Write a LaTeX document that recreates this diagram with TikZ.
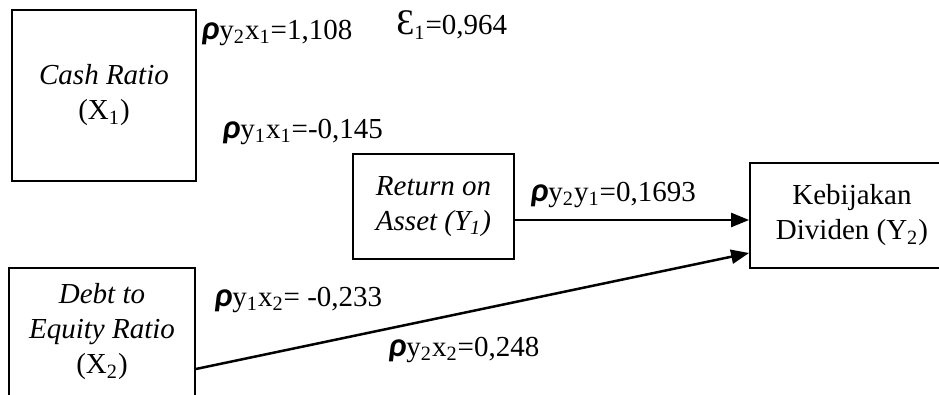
\documentclass[tikz,border=0pt]{standalone}
\usepackage{fontspec}
\setmainfont{Liberation Serif}
\newfontfamily\rhofont{Carlito}
\usetikzlibrary{arrows.meta}
\newcommand{\rh}{{\rhofont\fontsize{17}{17}\selectfont\bfseries\itshape ρ}}
\newcommand{\sbs}[1]{\textsubscript{#1}}
\begin{document}
\begin{tikzpicture}[x=0.5pt,y=-0.5pt,
  every node/.style={font=\fontsize{14.5}{17.5}\selectfont},
  box/.style={draw, line width=0.9pt, rectangle, align=center, inner sep=0pt},
  lbl/.style={anchor=west, inner sep=0pt},
  arr/.style={line width=1.25pt, -{Triangle[length=9pt,width=7pt]}}]
\useasboundingbox (0,0) rectangle (939,395);
\clip (0,0) rectangle (939,395);
\node[box, minimum width=92pt, minimum height=85.5pt] (cr) at (104,95.5) {\textit{Cash Ratio}\\(X\sbs{1})};
\node[box, minimum width=80.5pt, minimum height=52.5pt] (ret) at (433.5,206.5) {\textit{Return on}\\\textit{Asset (Y\sbs{1})}};
\node[box, minimum width=93pt, minimum height=64pt] (der) at (102,332) {\textit{Debt to}\\\textit{Equity Ratio}\\(X\sbs{2})};
\node[box, minimum width=102pt, minimum height=52.5pt] (kb) at (852,215.5) {Kebijakan\\Dividen (Y\sbs{2})};
\node[lbl] (p21) at (201,33) {\rh y\sbs{2}x\sbs{1}=1,108};
\node[lbl] (eps) at (396,25) {{\fontsize{18}{18}\selectfont Ɛ}\sbs{1}=0,964};
\node[lbl] (p11) at (222,132) {\rh y\sbs{1}x\sbs{1}=-0,145};
\node[lbl] (pyy) at (530,195) {\rh y\sbs{2}y\sbs{1}=0,1693};
\node[lbl] (p12) at (214,300) {\rh y\sbs{1}x\sbs{2}= -0,233};
\node[lbl] (p22) at (388,350) {\rh y\sbs{2}x\sbs{2}=0,248};
\draw[arr] ([yshift=-6.75pt]ret.east) -- ([yshift=-2.25pt]kb.west);
\draw[arr] ([yshift=-18.5pt]der.east) -- ([yshift=-18.75pt]kb.west);
\end{tikzpicture}
\end{document}
